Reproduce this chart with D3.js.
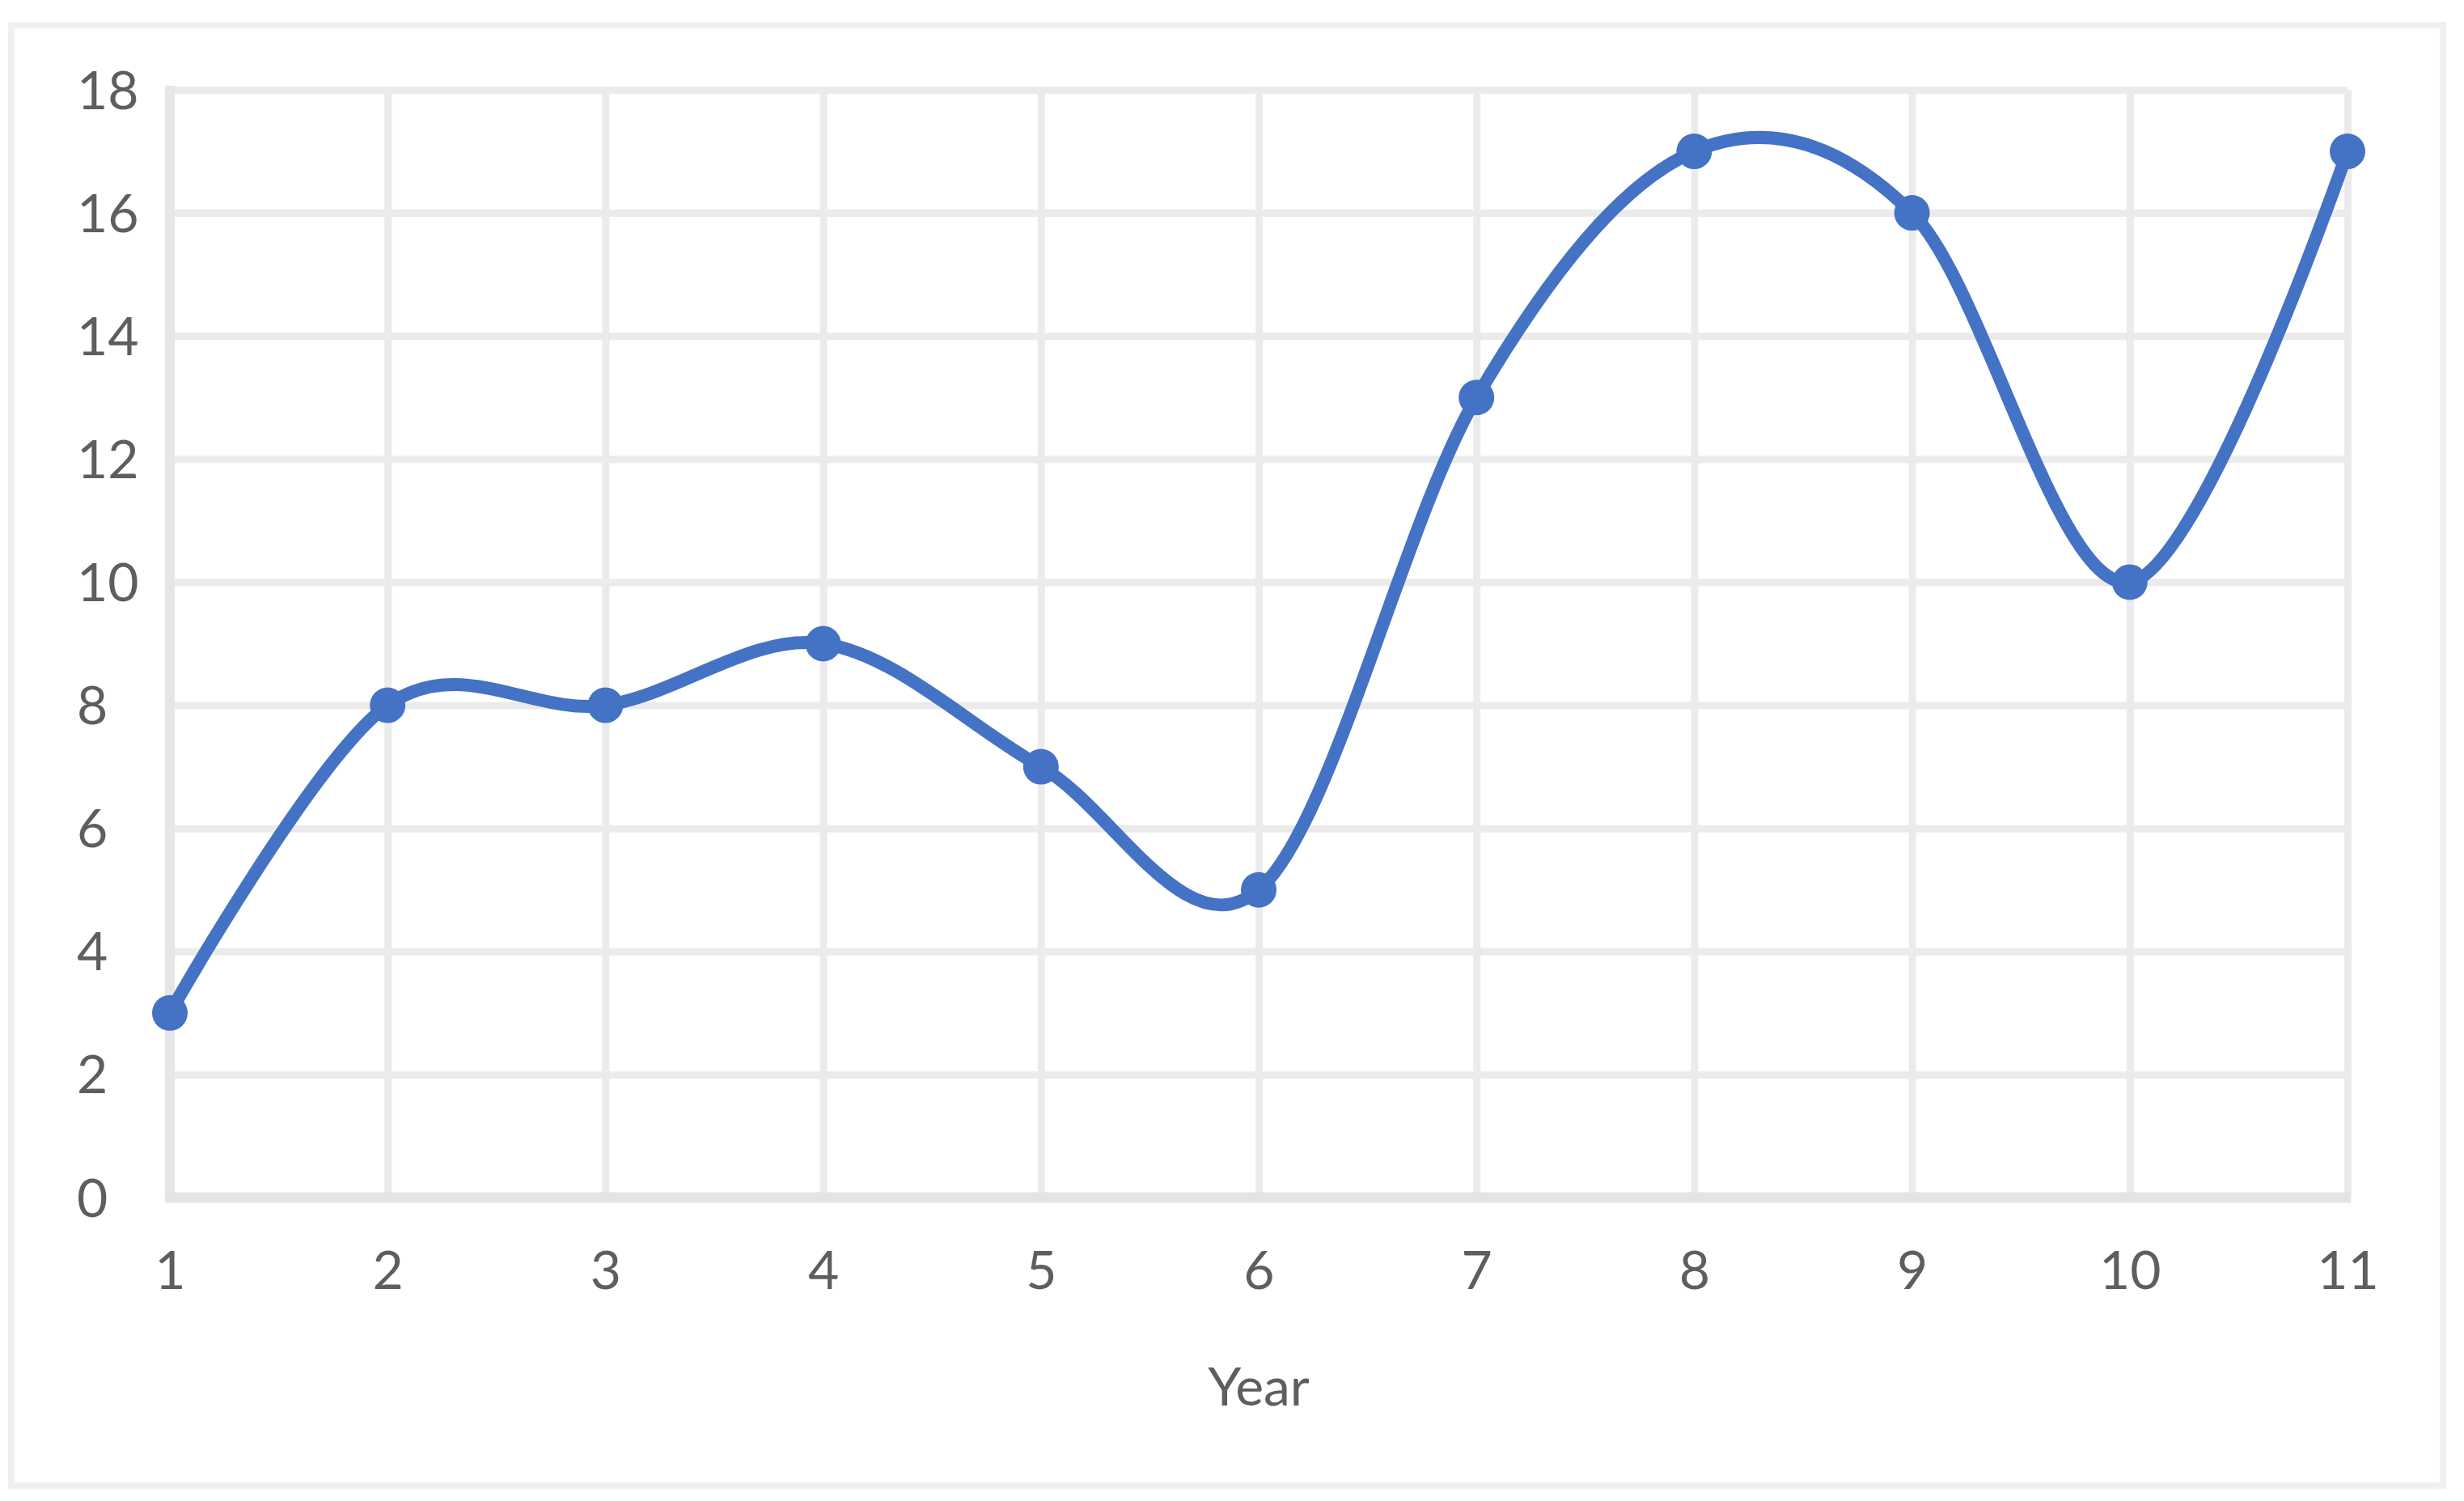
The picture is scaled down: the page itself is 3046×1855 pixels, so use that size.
<!DOCTYPE html>
<html>
<head>
<meta charset="utf-8">
<script src="https://cdn.jsdelivr.net/npm/d3@7"></script>
<style>
  html, body { margin: 0; padding: 0; background: #ffffff; }
  svg { display: block; }
</style>
</head>
<body>
<svg id="chart" width="3046" height="1855"></svg>
<script>
// ---- data ----
const years = [1, 2, 3, 4, 5, 6, 7, 8, 9, 10, 11];
const values = [3, 8, 8, 9, 7, 5, 13, 17, 16, 10, 17];
const yTicks = [0, 2, 4, 6, 8, 10, 12, 14, 16, 18];
const xTitle = "Year";

// ---- layout ----
const W = 3046, H = 1855;
const plot = { left: 210, right: 2902, top: 111, bottom: 1480 };
const svg = d3.select("#chart");

svg.append("rect")
  .attr("x", 0).attr("y", 0).attr("width", W).attr("height", H)
  .attr("fill", "#ffffff");

// outer chart border
svg.append("rect")
  .attr("x", 14).attr("y", 31).attr("width", 3006).attr("height", 1805)
  .attr("fill", "none").attr("stroke", "#f0f0f0").attr("stroke-width", 8);

const x = d3.scaleLinear().domain([1, 11]).range([plot.left, plot.right]);
const y = d3.scaleLinear().domain([0, 18]).range([plot.bottom, plot.top]);

const font = "Lato, 'Open Sans', sans-serif";
const fs = 66;
const textColor = "#5e5e5e";

// horizontal gridlines
svg.append("g")
  .attr("transform", `translate(${plot.left},0)`)
  .call(d3.axisLeft(y).tickValues(yTicks.filter(d => d > 0))
        .tickSize(-(plot.right - plot.left)).tickFormat(""))
  .call(g => g.select(".domain").remove())
  .call(g => g.selectAll("line").attr("stroke", "#ebebeb").attr("stroke-width", 9));

// vertical gridlines
svg.append("g")
  .attr("transform", `translate(0,${plot.bottom})`)
  .call(d3.axisBottom(x).tickValues(years.filter(d => d > 1))
        .tickSize(-(plot.bottom - plot.top)).tickFormat(""))
  .call(g => g.select(".domain").remove())
  .call(g => g.selectAll("line").attr("stroke", "#ebebeb").attr("stroke-width", 9));

// y axis (line + labels)
const yAxis = svg.append("g")
  .attr("transform", `translate(${plot.left},0)`)
  .call(d3.axisLeft(y).tickValues(yTicks).tickSize(0).tickFormat(d3.format("d")));
yAxis.select(".domain")
  .attr("stroke", "#e6e6e6").attr("stroke-width", 12)
  .attr("d", `M0,${plot.top - 5}V${plot.bottom}`);
yAxis.selectAll("text")
  .attr("x", 95 - plot.left)
  .attr("text-anchor", "start")
  .attr("dy", "0.35em")
  .attr("fill", textColor)
  .style("font-family", font).style("font-size", fs + "px");

// x axis (line + labels)
const xAxis = svg.append("g")
  .attr("transform", `translate(0,${plot.bottom})`)
  .call(d3.axisBottom(x).tickValues(years).tickSize(0).tickFormat(d3.format("d")));
xAxis.select(".domain")
  .attr("stroke", "#e4e4e4").attr("stroke-width", 13)
  .attr("d", `M${plot.left - 6},0H${plot.right + 4}`);
xAxis.selectAll("text")
  .attr("y", 90)
  .attr("dy", "0.35em")
  .attr("fill", textColor)
  .style("font-family", font).style("font-size", fs + "px");

// axis title
svg.append("text")
  .attr("x", (plot.left + plot.right) / 2)
  .attr("y", 1714)
  .attr("dy", "0.35em")
  .attr("text-anchor", "middle")
  .attr("fill", textColor)
  .style("font-family", font).style("font-size", fs + "px")
  .text(xTitle);

// series line (smoothed)
const pts = years.map((yr, i) => [yr, values[i]]);
const line = d3.line()
  .x(d => x(d[0])).y(d => y(d[1]))
  .curve(d3.curveCardinal.tension(0));

svg.append("path")
  .datum(pts)
  .attr("d", line)
  .attr("fill", "none")
  .attr("stroke", "#4472C4")
  .attr("stroke-width", 16)
  .attr("stroke-linejoin", "round")
  .attr("stroke-linecap", "round");

// markers
svg.append("g").selectAll("circle")
  .data(pts).join("circle")
  .attr("cx", d => x(d[0])).attr("cy", d => y(d[1]))
  .attr("r", 22)
  .attr("fill", "#4472C4");
</script>
</body>
</html>
